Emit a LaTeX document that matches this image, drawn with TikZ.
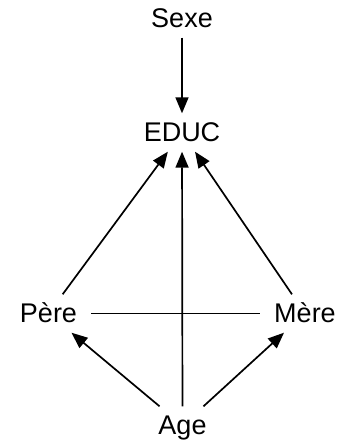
\documentclass[tikz,border=0pt]{standalone}
\usepackage{fontspec}
\setmainfont{Liberation Sans}
\usetikzlibrary{arrows.meta}
\begin{document}
\begin{tikzpicture}[x=1pt,y=1pt,
  var/.style={font=\fontsize{27}{30}\selectfont, text height=19pt, text depth=0pt,
    inner xsep=14pt, inner ysep=9.5pt},
  conn/.style={line width=1.7pt, -{Triangle[length=16pt,width=13pt]}},
  plain/.style={line width=1.7pt}]
\useasboundingbox (0,0) rectangle (342,441);
\node[var] (sexe) at (182,422.5) {Sexe};
\node[var] (educ) at (182,308.5) {EDUC};
\node[var] (pere) at (48.5,127.5) {Père};
\node[var] (mere) at (305,127.5) {Mère};
\node[var] (age) at (182.5,15.5) {Age};
\draw[conn] (sexe) -- (educ);
\draw[conn] (pere) -- (educ);
\draw[conn] (mere) -- (educ);
\draw[conn] (age) -- (educ);
\draw[conn] (age) -- (pere);
\draw[conn] (age) -- (mere);
\draw[plain] (pere) -- (mere);
\end{tikzpicture}
\end{document}
